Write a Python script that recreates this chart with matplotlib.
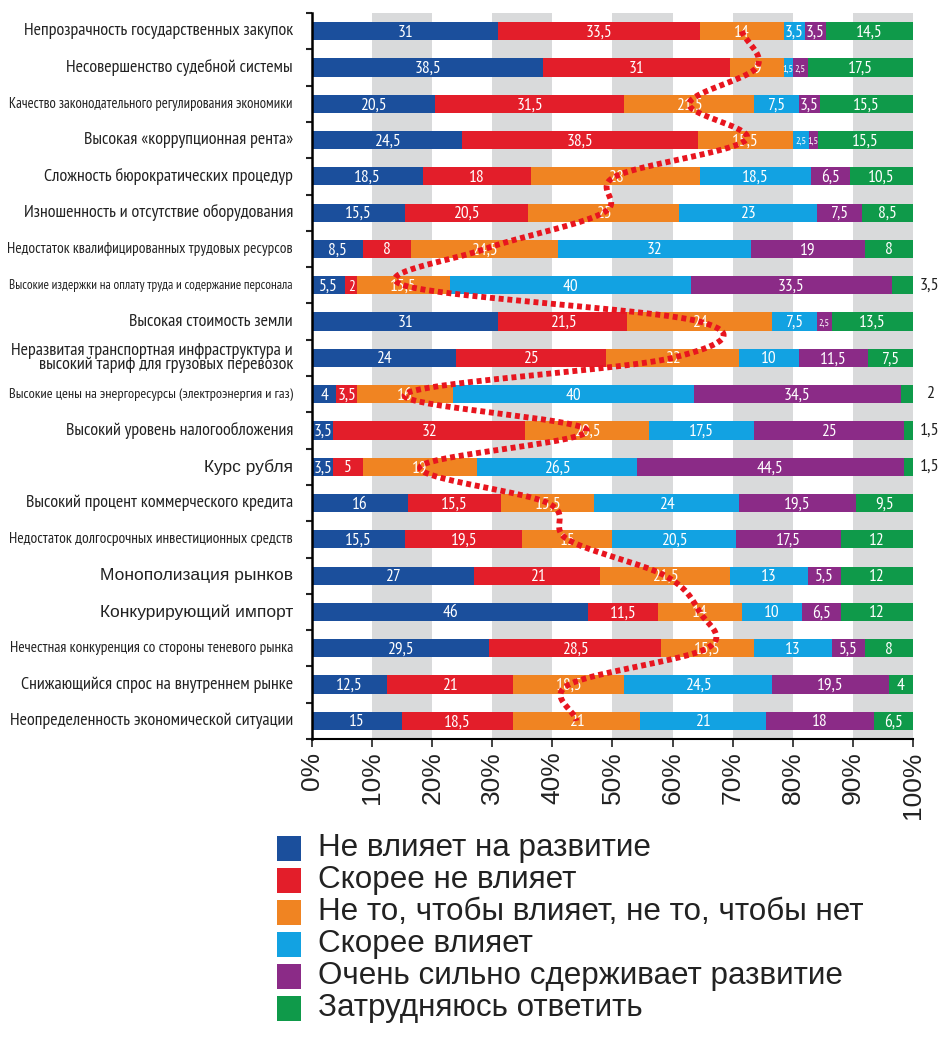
import numpy as np
import matplotlib
matplotlib.use('Agg')
import matplotlib.pyplot as plt
from matplotlib.patches import Rectangle
from matplotlib import font_manager

# Row labels, top to bottom
categories = [
    'Непрозрачность государственных закупок',
    'Несовершенство судебной системы',
    'Качество законодательного регулирования экономики',
    'Высокая «коррупционная рента»',
    'Сложность бюрократических процедур',
    'Изношенность и отсутствие оборудования',
    'Недостаток квалифицированных трудовых ресурсов',
    'Высокие издержки на оплату труда и содержание персонала',
    'Высокая стоимость земли',
    'Неразвитая транспортная инфраструктура и\nвысокий тариф для грузовых перевозок',
    'Высокие цены на энергоресурсы (электроэнергия и газ)',
    'Высокий уровень налогообложения',
    'Курс рубля',
    'Высокий процент коммерческого кредита',
    'Недостаток долгосрочных инвестиционных средств',
    'Монополизация рынков',
    'Конкурирующий импорт',
    'Нечестная конкуренция со стороны теневого рынка',
    'Снижающийся спрос на внутреннем рынке',
    'Неопределенность экономической ситуации',
]

no_effect = [31, 38.5, 20.5, 24.5, 18.5, 15.5, 8.5, 5.5, 31, 24, 4, 3.5, 3.5, 16, 15.5, 27, 46, 29.5, 12.5, 15]
rather_no = [33.5, 31, 31.5, 38.5, 18, 20.5, 8, 2, 21.5, 25, 3.5, 32, 5, 15.5, 19.5, 21, 11.5, 28.5, 21, 18.5]
neutral = [14, 9, 21.5, 15.5, 28, 25, 24.5, 15.5, 24, 22, 16, 20.5, 19, 15.5, 15, 21.5, 14, 15.5, 18.5, 21]
rather_yes = [3.5, 1.5, 7.5, 2.5, 18.5, 23, 32, 40, 7.5, 10, 40, 17.5, 26.5, 24, 20.5, 13, 10, 13, 24.5, 21]
strongly = [3.5, 2.5, 3.5, 1.5, 6.5, 7.5, 19, 33.5, 2.5, 11.5, 34.5, 25, 44.5, 19.5, 17.5, 5.5, 6.5, 5.5, 19.5, 18]
dont_know = [14.5, 17.5, 15.5, 15.5, 10.5, 8.5, 8, 3.5, 13.5, 7.5, 2, 1.5, 1.5, 9.5, 12, 12, 12, 8, 4, 6.5]

series_names = ['Не влияет на развитие', 'Скорее не влияет',
                'Не то, чтобы влияет, не то, чтобы нет', 'Скорее влияет',
                'Очень сильно сдерживает развитие', 'Затрудняюсь ответить']
colors = ['#1b4f9c', '#e31e2a', '#f08422', '#12a2e2', '#8b2b87', '#0f9a4a']

xticks = [0, 10, 20, 30, 40, 50, 60, 70, 80, 90, 100]

names = {f.name for f in font_manager.fontManager.ttflist}
REG = 'Liberation Sans' if 'Liberation Sans' in names else 'DejaVu Sans'
NARROW = dict(family='DejaVu Sans', fontstretch='condensed')
for cand in ['PT Sans Narrow', 'Roboto Condensed', 'Liberation Sans Narrow', 'Arial Narrow']:
    if cand in names:
        NARROW = dict(family=cand)
        break
plt.rcParams['font.family'] = [REG, 'DejaVu Sans']

fig = plt.figure(figsize=(9.43, 10.40), dpi=100)
ax = fig.add_axes([0.331, 0.2894, 0.637, 0.6981])

data = np.array([no_effect, rather_no, neutral, rather_yes, strongly, dont_know])
totals = data.sum(axis=0)
shares = data / totals * 100
n = len(categories)
y = np.arange(n)

# grey bands behind the bars
for i in range(1, len(xticks) - 1, 2):
    ax.axvspan(xticks[i], xticks[i + 1], color='#d9dadb', zorder=0, lw=0)

left = np.zeros(n)
for k in range(6):
    ax.barh(y, shares[k], left=left, height=0.5, color=colors[k], zorder=2, lw=0)
    for j in range(n):
        v = data[k, j]
        txt = ('%g' % v).replace('.', ',')
        if k == 5 and v < 4:
            ax.text(102.8, j, txt, ha='center', va='center', fontsize=13,
                    color='#222222', clip_on=False, **NARROW)
            continue
        if shares[k, j] >= 3:
            fs = 12.5
        elif len(txt) == 1:
            fs = 11
        else:
            fs = 7.5
        ax.text(left[j] + shares[k, j] / 2, j + 0.04, txt, ha='center', va='center',
                fontsize=fs, color='white', zorder=3, **NARROW)
    left += shares[k]

# red dotted curve through the middle of the neutral segment
mid = shares[0] + shares[1] + shares[2] / 2
tang = np.zeros(n)
tang[1:-1] = (mid[2:] - mid[:-2]) / 2
tang[0] = mid[1] - mid[0]
tang[-1] = mid[-1] - mid[-2]
cx, cy = [], []
for i in range(n - 1):
    t = np.linspace(0, 1, 40)
    h00 = 2 * t**3 - 3 * t**2 + 1
    h10 = t**3 - 2 * t**2 + t
    h01 = -2 * t**3 + 3 * t**2
    h11 = t**3 - t**2
    cx.extend(h00 * mid[i] + h10 * tang[i] + h01 * mid[i + 1] + h11 * tang[i + 1])
    cy.extend(i + t)
ax.plot(cx, cy, color='#e8151f', lw=4.2, linestyle=(0, (0.85, 0.65)), zorder=4,
        dash_capstyle='butt')

ax.set_xlim(0, 100)
ax.set_ylim(n - 0.5, -0.5)
ax.set_xticks(xticks)
ax.set_xticklabels(['%d%%' % v for v in xticks], rotation=90, fontsize=19, color='#222222')
ax.set_yticks(np.arange(n + 1) - 0.5)
ax.set_yticklabels([])
ax.tick_params(axis='y', length=4, width=1.5, color='#222222')
ax.tick_params(axis='x', length=6, width=1.2, color='#222222', pad=3)
for s in ['top', 'right']:
    ax.spines[s].set_visible(False)
ax.spines['left'].set_linewidth(1.8)
ax.spines['bottom'].set_linewidth(1.5)

# row labels: short ones in the regular face, long ones narrowed to fit
fig.canvas.draw()
renderer = fig.canvas.get_renderer()
max_w = 282
for j, lab in enumerate(categories):
    t = ax.text(-3.2, j, lab, ha='right', va='center', fontsize=12.5, family=REG,
                color='#222222', linespacing=0.85, multialignment='right')
    w = t.get_window_extent(renderer).width
    if w > 200:
        t.set_family(NARROW['family'])
        if 'fontstretch' in NARROW:
            t.set_fontstretch(NARROW['fontstretch'])
        t.set_fontsize(13)
        w = t.get_window_extent(renderer).width
        if w > max_w:
            t.set_fontsize(13 * max_w / w)

# legend, one square and one line of text per series
for i, name in enumerate(series_names):
    yc = 1 - (848 + 32 * i) / 1040
    fig.patches.append(Rectangle((277 / 943, yc - 12.5 / 1040), 24 / 943, 25 / 1040,
                                 transform=fig.transFigure, facecolor=colors[i], edgecolor='none'))
    fig.text(318 / 943, yc, name, fontsize=22.6, va='center', ha='left', color='#222222')

fig.savefig('out.png', dpi=100)
